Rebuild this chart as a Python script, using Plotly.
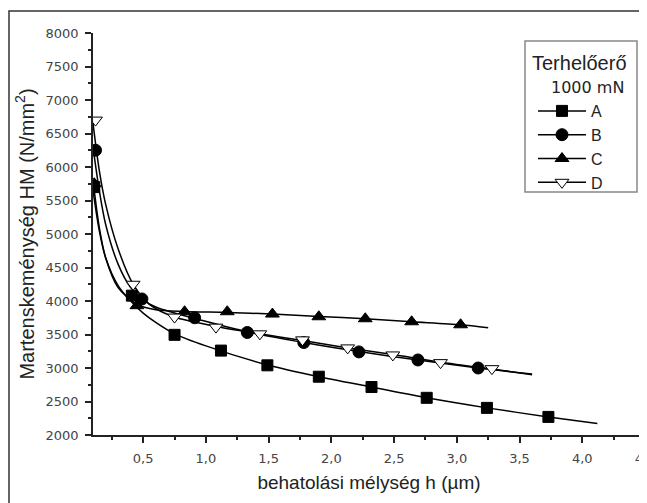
import plotly.graph_objects as go

# ---- data ----
# markers
A_h  = [0.11, 0.41, 0.75, 1.12, 1.49, 1.90, 2.32, 2.76, 3.24, 3.73]
A_hm = [5700, 4080, 3495, 3260, 3040, 2870, 2716, 2555, 2405, 2270]
B_h  = [0.12, 0.49, 0.91, 1.33, 1.78, 2.22, 2.69, 3.17]
B_hm = [6250, 4030, 3750, 3530, 3380, 3240, 3120, 3000]
C_h  = [0.11, 0.45, 0.83, 1.17, 1.53, 1.90, 2.27, 2.64, 3.03]
C_hm = [5750, 3930, 3840, 3840, 3805, 3765, 3735, 3690, 3645]
D_h  = [0.12, 0.42, 0.75, 1.08, 1.43, 1.77, 2.13, 2.49, 2.87, 3.28]
D_hm = [6700, 4250, 3760, 3610, 3510, 3420, 3300, 3195, 3080, 2990]

# fitted curves
A_fit_h  = [0.10, 0.15, 0.20, 0.30, 0.40, 0.50, 0.60, 0.75, 1.00, 1.50, 1.90, 2.32, 2.76, 3.24, 3.73, 4.12]
A_fit_hm = [5650, 5050, 4650, 4230, 4000, 3820, 3680, 3510, 3330, 3040, 2870, 2716, 2555, 2405, 2270, 2170]
B_fit_h  = [0.10, 0.15, 0.20, 0.30, 0.40, 0.49, 0.60, 0.75, 0.91, 1.33, 1.78, 2.22, 2.69, 3.17, 3.60]
B_fit_hm = [6300, 5650, 5150, 4550, 4200, 4030, 3910, 3820, 3740, 3540, 3380, 3245, 3120, 3000, 2910]
C_fit_h  = [0.10, 0.15, 0.20, 0.30, 0.45, 0.60, 0.83, 1.17, 1.53, 1.90, 2.27, 2.64, 3.03, 3.25]
C_fit_hm = [5800, 5100, 4650, 4200, 3950, 3870, 3845, 3830, 3805, 3770, 3735, 3690, 3645, 3600]
D_fit_h  = [0.10, 0.15, 0.20, 0.30, 0.42, 0.55, 0.75, 1.08, 1.43, 1.77, 2.13, 2.49, 2.87, 3.28, 3.60]
D_fit_hm = [6650, 5950, 5450, 4780, 4250, 3950, 3760, 3620, 3510, 3410, 3300, 3200, 3085, 2985, 2900]

series_names = ["A", "B", "C", "D"]

x_tick_vals = [0.5, 1.0, 1.5, 2.0, 2.5, 3.0, 3.5, 4.0, 4.5]
x_tick_text = ["0,5", "1,0", "1,5", "2,0", "2,5", "3,0", "3,5", "4,0", "4,5"]
y_tick_vals = [2000, 2500, 3000, 3500, 4000, 4500, 5000, 5500, 6000, 6500, 7000, 7500, 8000]
y_tick_text = [str(v) for v in y_tick_vals]

legend_title_1 = "Terhelőerő"
legend_title_2 = "1000 mN"
x_title = "behatolási mélység h (µm)"
y_title = "Martenskeménység HM (N/mm<sup>2</sup>)"

# ---- styles ----
sym = {"A": "square", "B": "circle", "C": "triangle-up", "D": "triangle-down"}
size = {"A": 11, "B": 12, "C": 12, "D": 12}
fill = {"A": "black", "B": "black", "C": "black", "D": "white"}

marks = {"A": (A_h, A_hm), "B": (B_h, B_hm), "C": (C_h, C_hm), "D": (D_h, D_hm)}
fits = {"A": (A_fit_h, A_fit_hm), "B": (B_fit_h, B_fit_hm), "C": (C_fit_h, C_fit_hm), "D": (D_fit_h, D_fit_hm)}

fig = go.Figure()
for n in series_names:
    fx, fy = fits[n]
    fig.add_trace(go.Scatter(x=fx, y=fy, mode="lines", showlegend=False,
                             line=dict(color="black", width=1.5, shape="spline", smoothing=0.8),
                             hoverinfo="skip"))
for n in series_names:
    mx, my = marks[n]
    fig.add_trace(go.Scatter(x=mx, y=my, mode="markers", showlegend=False, name=n,
                             marker=dict(symbol=sym[n], size=size[n], color=fill[n],
                                         line=dict(color="black", width=1))))
for n in series_names:
    fig.add_trace(go.Scatter(x=[None], y=[None], mode="lines+markers", name=n,
                             line=dict(color="black", width=1.5),
                             marker=dict(symbol=sym[n], size=size[n], color=fill[n],
                                         line=dict(color="black", width=1))))

font_main = "Liberation Sans, Arial, sans-serif"
font_wide = "DejaVu Sans, sans-serif"

# plot area in page pixels (page has an 8px body margin)
OFF = 8
PL, PR, PT, PB = 93, 645, 33, 435
W, H = 647, 503
PW, PH = PR - PL, PB - PT


def px(x):
    return (x - PL) / PW


def py(y):
    return (PB - y) / PH


fig.update_layout(
    width=W, height=H,
    margin=dict(l=PL - OFF, r=W - (PR - OFF), t=PT - OFF, b=H - (PB - OFF), autoexpand=False),
    paper_bgcolor="white", plot_bgcolor="white",
    font=dict(family=font_main, color="#222"),
    showlegend=True,
    legend=dict(x=px(533), y=py(94), xanchor="left", yanchor="top",
                bgcolor="rgba(0,0,0,0)", borderwidth=0,
                font=dict(family=font_main, size=16, color="#222"),
                itemwidth=48, tracegroupgap=0),
    xaxis=dict(range=[0.1, 4.5], tickmode="array", tickvals=x_tick_vals, ticktext=x_tick_text,
               showgrid=False, zeroline=False, showline=True, linecolor="#222", linewidth=1.5,
               ticks="outside", ticklen=6, tickwidth=1.5, tickcolor="#222",
               minor=dict(tickmode="linear", tick0=0, dtick=0.25, ticks="outside", ticklen=3,
                          tickwidth=1.5, tickcolor="#222", showgrid=False),
               tickfont=dict(family=font_wide, size=13, color="#444"),
               ticklabelstandoff=5, ticklabeloverflow="allow",
               title=dict(text=x_title, font=dict(family=font_main, size=19, color="#222"), standoff=10)),
    yaxis=dict(range=[2000, 8000], tickmode="array", tickvals=y_tick_vals, ticktext=y_tick_text,
               showgrid=False, zeroline=False, showline=True, linecolor="#222", linewidth=1.5,
               ticks="outside", ticklen=6, tickwidth=1.5, tickcolor="#222",
               minor=dict(tickmode="linear", tick0=0, dtick=250, ticks="outside", ticklen=3,
                          tickwidth=1.5, tickcolor="#222", showgrid=False),
               tickfont=dict(family=font_wide, size=13, color="#444"),
               ticklabelstandoff=4, ticklabeloverflow="allow",
               title=dict(text=y_title, font=dict(family=font_main, size=20, color="#222"), standoff=6)),
)

# legend frame and title
fig.add_shape(type="rect", xref="paper", yref="paper",
              x0=px(525), x1=px(637), y0=py(192), y1=py(41),
              line=dict(color="#888", width=1.5), fillcolor="rgba(0,0,0,0)")
fig.add_annotation(xref="paper", yref="paper", x=px(629), y=py(63),
                   text=legend_title_1, showarrow=False, xanchor="right", yanchor="middle",
                   font=dict(family=font_main, size=20, color="#222"))
fig.add_annotation(xref="paper", yref="paper", x=px(626), y=py(87),
                   text=legend_title_2, showarrow=False, xanchor="right", yanchor="middle",
                   font=dict(family=font_wide, size=16, color="#222"))
# outer frame of the picture
fig.add_shape(type="rect", xref="paper", yref="paper",
              x0=px(9), x1=px(670), y0=py(530), y1=py(11),
              line=dict(color="#333", width=1.5), fillcolor="rgba(0,0,0,0)", layer="above")

fig.write_html("out.html")
